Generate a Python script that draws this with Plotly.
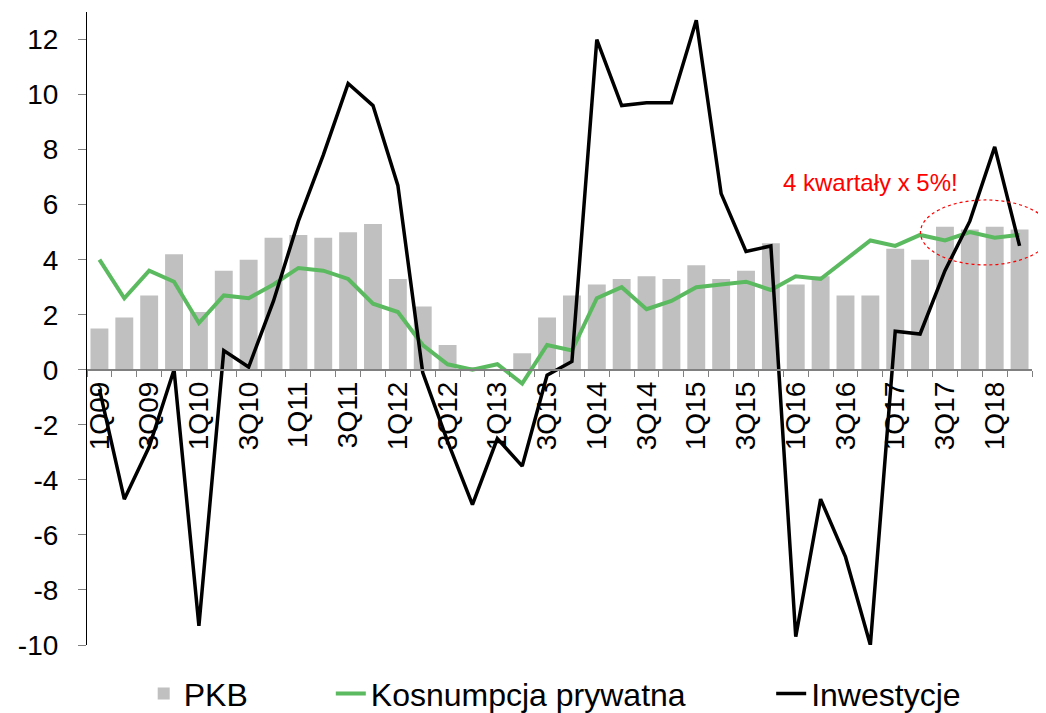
import plotly.graph_objects as go

# kwartaly 1Q09 - 2Q18
quarters = ['1Q09', '2Q09', '3Q09', '4Q09', '1Q10', '2Q10', '3Q10', '4Q10',
            '1Q11', '2Q11', '3Q11', '4Q11', '1Q12', '2Q12', '3Q12', '4Q12',
            '1Q13', '2Q13', '3Q13', '4Q13', '1Q14', '2Q14', '3Q14', '4Q14',
            '1Q15', '2Q15', '3Q15', '4Q15', '1Q16', '2Q16', '3Q16', '4Q16',
            '1Q17', '2Q17', '3Q17', '4Q17', '1Q18', '2Q18']
tick_labels = [q if i % 2 == 0 else '' for i, q in enumerate(quarters)]
y_ticks = [-10, -8, -6, -4, -2, 0, 2, 4, 6, 8, 10, 12]
y_tick_labels = ['-10', '-8', '-6', '-4', '-2', '0', '2', '4', '6', '8', '10', '12']

pkb = [1.5, 1.9, 2.7, 4.2, 2.1, 3.6, 4.0, 4.8, 4.9, 4.8, 5.0, 5.3, 3.3, 2.3, 0.9, 0.1,
       0.0, 0.6, 1.9, 2.7, 3.1, 3.3, 3.4, 3.3, 3.8, 3.3, 3.6, 4.6, 3.1, 3.4, 2.7, 2.7,
       4.4, 4.0, 5.2, 5.1, 5.2, 5.1]
konsumpcja = [4.0, 2.6, 3.6, 3.2, 1.7, 2.7, 2.6, 3.1, 3.7, 3.6, 3.3, 2.4, 2.1, 0.9, 0.2, 0.0,
              0.2, -0.5, 0.9, 0.7, 2.6, 3.0, 2.2, 2.5, 3.0, 3.1, 3.2, 2.9, 3.4, 3.3, 4.0, 4.7,
              4.5, 4.9, 4.7, 5.0, 4.8, 4.9]
inwestycje = [-0.7, -4.7, -2.8, 0.0, -9.3, 0.7, 0.1, 2.5, 5.4, 7.8, 10.4, 9.6, 6.7, -0.1, -2.6, -4.9,
              -2.5, -3.5, -0.2, 0.3, 12.0, 9.6, 9.7, 9.7, 12.7, 6.4, 4.3, 4.5, -9.7, -4.7, -6.8, -10.0,
              1.4, 1.3, 3.6, 5.4, 8.1, 4.5]

font = 'Arial, Liberation Sans, sans-serif'

fig = go.Figure()
fig.add_trace(go.Bar(x=quarters, y=pkb, name='PKB', marker_color='#C0C0C0',
                     marker_line_width=0, legend='legend', showlegend=True))
fig.add_trace(go.Scatter(x=quarters, y=konsumpcja, name='Kosnumpcja prywatna', mode='lines',
                         line=dict(color='#5BBA5F', width=4), legend='legend2', showlegend=True))
fig.add_trace(go.Scatter(x=quarters, y=inwestycje, name='Inwestycje', mode='lines',
                         line=dict(color='black', width=3.5), legend='legend3', showlegend=True))

fig.add_annotation(x='4Q16', y=6.8, text='4 kwartały x 5%!', showarrow=False,
                   font=dict(family=font, size=24, color='#FF0000'))
fig.add_shape(type='circle', xref='paper', yref='y', x0=0.882, x1=1.02, y0=3.81, y1=6.17,
              line=dict(color='#FF0000', width=1.2, dash='dot'))

# page body has an 8px margin, so the figure is 8px smaller
leg = dict(orientation='h', yanchor='middle', y=-0.077, xanchor='left', visible=True,
           font=dict(family=font, size=32, color='black'), bgcolor='rgba(0,0,0,0)')
fig.update_layout(
    width=1038, height=705,
    margin=dict(l=79, r=14, t=4, b=68, autoexpand=False),
    plot_bgcolor='white', paper_bgcolor='white',
    showlegend=True,
    bargap=0.28,
    font=dict(family=font, size=28, color='black'),
    legend=dict(leg, x=0.06),
    legend2=dict(leg, x=0.258),
    legend3=dict(leg, x=0.724),
    xaxis=dict(type='category', tickmode='array', tickvals=quarters, ticktext=tick_labels,
               tickson='boundaries', ticks='outside', ticklen=6, tickcolor='#808080',
               tickangle=-90, showline=True, linecolor='#808080', linewidth=1.5,
               showgrid=False, anchor='free', position=10 / 23, automargin=False,
               tickfont=dict(family=font, size=28, color='black')),
    yaxis=dict(range=[-10, 13], tickmode='array', tickvals=y_ticks, ticktext=y_tick_labels,
               ticks='outside', ticklen=8, automargin=False,
               tickcolor='#808080', showline=True, linecolor='black', linewidth=1.2,
               showgrid=False, zeroline=False, ticklabelstandoff=14,
               tickfont=dict(family=font, size=28, color='black')),
)

fig.write_html('out.html')
